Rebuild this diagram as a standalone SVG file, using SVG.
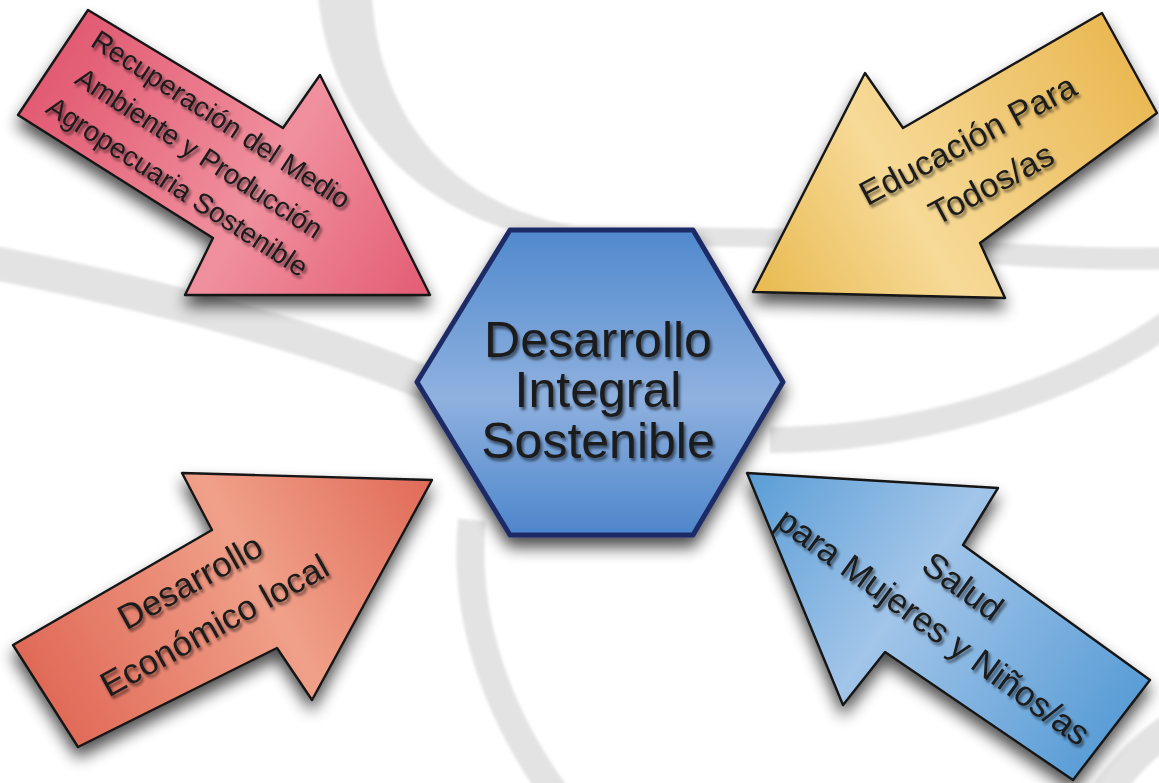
<svg xmlns="http://www.w3.org/2000/svg" width="1159" height="783" viewBox="0 0 1159 783">
  <defs>
    <style>
      .band { fill: none; stroke: #e3e3e3; stroke-linecap: butt; }
      .arrow { stroke: #151515; stroke-width: 2.4; stroke-linejoin: round; }
      .lbl { font-family: "Liberation Sans", Arial, sans-serif; fill: #1b1b1b; text-anchor: middle; }
    </style>
    <filter id="shadow" x="-20%" y="-20%" width="140%" height="150%">
      <feGaussianBlur in="SourceAlpha" stdDeviation="8"/>
      <feOffset dx="0" dy="10" result="b"/>
      <feComponentTransfer><feFuncA type="linear" slope="0.7"/></feComponentTransfer>
      <feMerge><feMergeNode/><feMergeNode in="SourceGraphic"/></feMerge>
    </filter>
    <filter id="tshadow" x="-10%" y="-20%" width="120%" height="150%">
      <feGaussianBlur in="SourceAlpha" stdDeviation="1.6"/>
      <feOffset dx="1.5" dy="2.5"/>
      <feComponentTransfer><feFuncA type="linear" slope="0.55"/></feComponentTransfer>
      <feMerge><feMergeNode/><feMergeNode in="SourceGraphic"/></feMerge>
    </filter>
    <filter id="soft"><feGaussianBlur stdDeviation="1.5"/></filter>
    <linearGradient id="gPink" gradientUnits="userSpaceOnUse" x1="53" y1="62" x2="430" y2="295">
      <stop offset="0" stop-color="#e25a72"/>
      <stop offset="0.55" stop-color="#f0909e"/>
      <stop offset="1" stop-color="#e35c74"/>
    </linearGradient>
    <linearGradient id="gYellow" gradientUnits="userSpaceOnUse" x1="1130" y1="63" x2="753" y2="292">
      <stop offset="0" stop-color="#eab955"/>
      <stop offset="0.6" stop-color="#f7da98"/>
      <stop offset="1" stop-color="#e8b94f"/>
    </linearGradient>
    <linearGradient id="gOrange" gradientUnits="userSpaceOnUse" x1="45" y1="696" x2="432" y2="480">
      <stop offset="0" stop-color="#e06a58"/>
      <stop offset="0.55" stop-color="#f0a089"/>
      <stop offset="1" stop-color="#e06a58"/>
    </linearGradient>
    <linearGradient id="gBlue" gradientUnits="userSpaceOnUse" x1="1112" y1="730" x2="747" y2="473">
      <stop offset="0" stop-color="#5a9dd6"/>
      <stop offset="0.55" stop-color="#a2c5e9"/>
      <stop offset="1" stop-color="#5a9dd6"/>
    </linearGradient>
    <linearGradient id="gHex" gradientUnits="userSpaceOnUse" x1="0" y1="230" x2="0" y2="535">
      <stop offset="0" stop-color="#5089cd"/>
      <stop offset="0.55" stop-color="#8fb1df"/>
      <stop offset="1" stop-color="#4d86cb"/>
    </linearGradient>
  </defs>

  <rect width="1159" height="783" fill="#ffffff"/>

  <g id="background" filter="url(#soft)">
    <path d="M 318 -5 C 330 125, 420 222, 570 244 L 800 248 L 800 229 L 575 226 C 450 205, 378 115, 372 -5 Z" fill="#e3e3e3"/>
    <path class="band" stroke-width="22" d="M 790 240 C 900 245, 1050 262, 1170 258"/>
    <path class="band" stroke-width="26" d="M 770 440 C 900 440, 1060 400, 1170 322"/>
    <path class="band" stroke-width="34" d="M -10 262 C 120 288, 300 330, 430 385"/>
    <path class="band" stroke-width="28" d="M 472 520 C 462 620, 500 720, 560 800"/>
    <path class="band" stroke-width="30" d="M 1100 800 C 1125 765, 1145 745, 1175 725"/>
  </g>

  <g id="connectors">
    <g id="arrow-pink" filter="url(#shadow)">
      <path class="arrow" fill="url(#gPink)" d="M 88 10 L 283 128 L 320 75 L 430 295 L 185 295 L 213 238 L 18 115 Z"/>
    </g>
    <g id="arrow-yellow" filter="url(#shadow)">
      <path class="arrow" fill="url(#gYellow)" d="M 1102 13 L 1157 113 L 980 243 L 1005 298 L 753 292 L 865 73 L 903 128 Z"/>
    </g>
    <g id="arrow-orange" filter="url(#shadow)">
      <path class="arrow" fill="url(#gOrange)" d="M 13 645 L 212 530 L 182 473 L 432 480 L 312 700 L 277 648 L 78 747 Z"/>
    </g>
    <g id="arrow-blue" filter="url(#shadow)">
      <path class="arrow" fill="url(#gBlue)" d="M 747 473 L 998 488 L 963 545 L 1150 680 L 1073 780 L 885 652 L 843 705 Z"/>
    </g>
  </g>

  <g id="node-center">
    <path d="M 510 230 L 693 230 L 783 382 L 693 535 L 510 535 L 417 382 Z" fill="url(#gHex)" stroke="#1e2a66" stroke-width="5" stroke-linejoin="round" filter="url(#shadow)"/>
    <g class="lbl" font-size="50" filter="url(#tshadow)">
      <text x="598" y="357">Desarrollo</text>
      <text x="598" y="407">Integral</text>
      <text x="598" y="458">Sostenible</text>
    </g>
  </g>

  <g id="node-pink" class="lbl" font-size="28" filter="url(#tshadow)">
    <g transform="translate(194,161) rotate(33)">
      <text x="0" y="-40">Recuperación del Medio</text>
      <text x="0" y="0">Ambiente y Producción</text>
      <text x="0" y="40">Agropecuaria Sostenible</text>
    </g>
  </g>

  <g id="node-yellow" class="lbl" font-size="34" filter="url(#tshadow)">
    <g transform="translate(985,172) rotate(-28)">
      <text x="0" y="-25">Educación Para</text>
      <text x="0" y="25">Todos/as</text>
    </g>
  </g>

  <g id="node-orange" class="lbl" font-size="35" filter="url(#tshadow)">
    <g transform="translate(208,614) rotate(-29)">
      <text x="0" y="-25">Desarrollo</text>
      <text x="0" y="25">Económico local</text>
    </g>
  </g>

  <g id="node-blue" class="lbl" font-size="35" filter="url(#tshadow)">
    <g transform="translate(941,616) rotate(36)">
      <text x="0" y="-25">Salud</text>
      <text x="0" y="25">para Mujeres y Niños/as</text>
    </g>
  </g>
</svg>
